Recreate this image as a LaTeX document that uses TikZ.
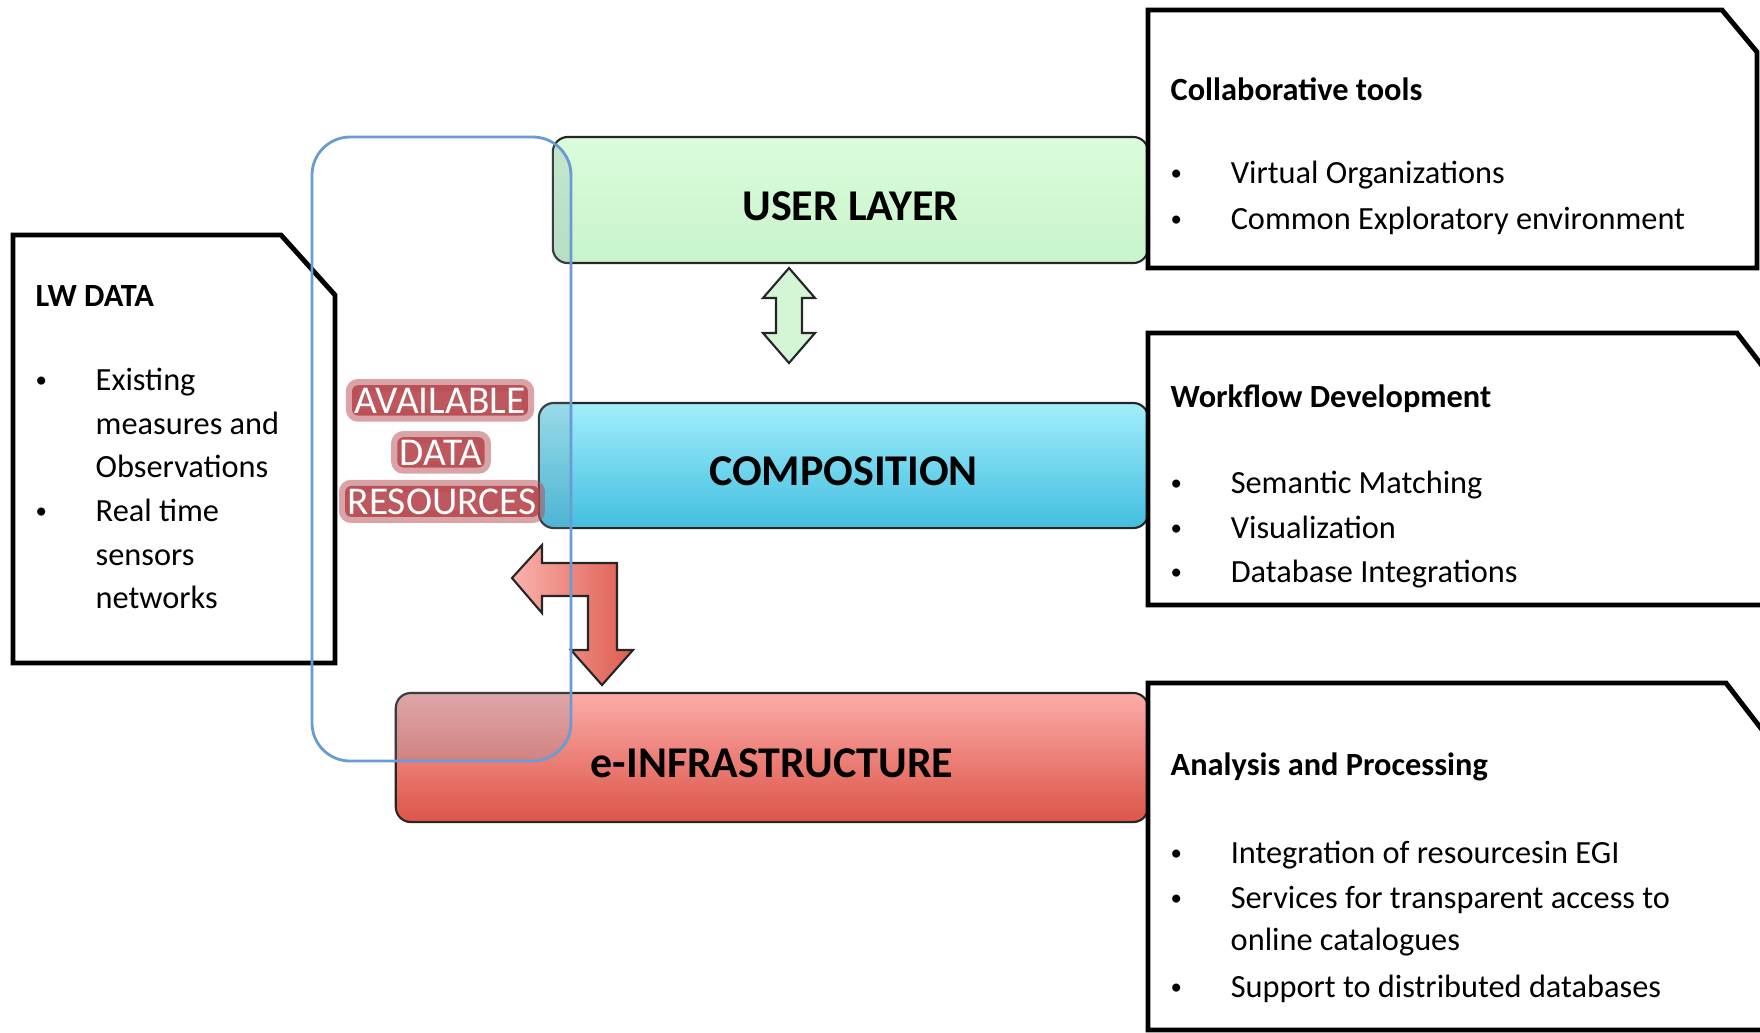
\documentclass[tikz,border=0pt]{standalone}
\usepackage{fontspec}
\setmainfont{Carlito}
\usetikzlibrary{calc}

\definecolor{userTop}{RGB}{218,252,218}
\definecolor{userBot}{RGB}{200,244,204}
\definecolor{compTop}{RGB}{162,238,250}
\definecolor{compBot}{RGB}{66,190,224}
\definecolor{infraTop}{RGB}{252,172,168}
\definecolor{infraBot}{RGB}{220,84,72}
\definecolor{arrGreen}{RGB}{212,246,212}
\definecolor{arrRedL}{RGB}{250,178,172}
\definecolor{arrRedR}{RGB}{222,92,80}
\definecolor{resBlue}{RGB}{106,155,211}
\definecolor{tintBlue}{RGB}{120,150,170}
\definecolor{availRed}{RGB}{182,74,80}

\newcommand{\bul}{\makebox[0.6cm][l]{\raisebox{0.025cm}{\fontsize{6.5}{7}\selectfont\textbullet}}}

\tikzset{
	layerbox/.style={draw=black!85, line width=0.6pt, rounded corners=0.15cm, text height=0.4cm, text depth=0cm, font=\fontsize{12.5}{15}\selectfont\bfseries},
	notebox/.style={draw=black, line width=1.4pt, fill=white, line join=miter},
	headtext/.style={anchor=base west, inner sep=0pt, font=\fontsize{9.2}{11}\selectfont\bfseries},
	itemtext/.style={anchor=base west, inner sep=0pt, font=\fontsize{9.2}{11}\selectfont},
	availtext/.style={anchor=base, text=white, fill=availRed, fill opacity=0.92, text opacity=1, draw=availRed, draw opacity=0.5, line width=3.5pt, rounded corners=0.06cm, inner sep=0.025cm, font=\fontsize{11.2}{13}\selectfont},
	blockarrow/.style={draw=black!85, line width=0.6pt, line join=miter},
}

\begin{document}
\begin{tikzpicture}[x=0.01cm, y=-0.01cm]
	\useasboundingbox (0,0) rectangle (1760,1032);
	\clip (0,0) rectangle (1760,1032);
	
	% left note
	\draw[notebox] (13,235) -- (281,235) -- (335,295) -- (335,663) -- (13,663) -- cycle;
	\node[headtext] (lw-h) at (35,306) {LW DATA};
	\node[itemtext] (lw-1) at (35,390) {\bul Existing};
	\node[itemtext] (lw-2) at (95,434) {measures and};
	\node[itemtext] (lw-3) at (95,477) {Observations};
	\node[itemtext] (lw-4) at (35,521) {\bul Real time};
	\node[itemtext] (lw-5) at (95,565) {sensors};
	\node[itemtext] (lw-6) at (95,608) {networks};
	
	% layers
	\node[layerbox, top color=userTop, bottom color=userBot, minimum width=5.95cm, minimum height=1.26cm] (user) at (850.5,200) {USER LAYER};
	\node[layerbox, top color=compTop, bottom color=compBot, minimum width=6.09cm, minimum height=1.25cm] (comp) at (843.5,465.5) {COMPOSITION};
	\node[layerbox, top color=infraTop, bottom color=infraBot, minimum width=7.52cm, minimum height=1.29cm] (infra) at (772,757.5) {e-INFRASTRUCTURE};
	
	\begin{scope}
		\clip[rounded corners=0.38cm] (312,137) rectangle (571,761);
		\foreach \b in {user,comp,infra}
			\fill[tintBlue, fill opacity=0.22, rounded corners=0.15cm] (\b.south west) rectangle (\b.north east);
	\end{scope}
	
	% right notes
	\draw[notebox] (1148,10) -- (1722,10) -- (1757,52) -- (1757,268) -- (1148,268) -- cycle;
	\node[headtext] (col-h) at (1170,100) {Collaborative tools};
	\node[itemtext] (col-1) at (1170,183) {\bul Virtual Organizations};
	\node[itemtext] (col-2) at (1170,229) {\bul Common Exploratory environment};
	
	\draw[notebox] (1148,333) -- (1737,333) -- (1790,402) -- (1790,605) -- (1148,605) -- cycle;
	\node[headtext] (wf-h) at (1170,407) {Workflow Development};
	\node[itemtext] (wf-1) at (1170,493) {\bul Semantic Matching};
	\node[itemtext] (wf-2) at (1170,538) {\bul Visualization};
	\node[itemtext] (wf-3) at (1170,582) {\bul Database Integrations};
	
	\draw[notebox] (1148,683) -- (1726,683) -- (1790,766) -- (1790,1030) -- (1148,1030) -- cycle;
	\node[headtext] (an-h) at (1170,775) {Analysis and Processing};
	\node[itemtext] (an-1) at (1170,863) {\bul Integration of resourcesin EGI};
	\node[itemtext] (an-2) at (1170,908) {\bul Services for transparent access to};
	\node[itemtext] (an-3) at (1230,950) {online catalogues};
	\node[itemtext] (an-4) at (1170,997) {\bul Support to distributed databases};
	
	% arrows
	\draw[blockarrow, fill=arrGreen] (789,268) -- (815,298) -- (802,298) -- (802,333) -- (815,333) -- (789,363)
		-- (763,333) -- (776,333) -- (776,298) -- (763,298) -- cycle;
	\draw[blockarrow, left color=arrRedL, right color=arrRedR] (512,578) -- (542,545) -- (542,563) -- (617,563) -- (617,650)
		-- (633,650) -- (602,685) -- (571,650) -- (588,650) -- (588,596) -- (542,596) -- (542,613) -- cycle;
	
	% data resources
	\draw[resBlue, line width=0.8pt, rounded corners=0.38cm] (312,137) rectangle (571,761);
	\node[availtext] (av-1) at (440,413) {AVAILABLE};
	\node[availtext] (av-2) at (441,465) {DATA};
	\node[availtext] (av-3) at (442,514) {RESOURCES};
	
\end{tikzpicture}
\end{document}
